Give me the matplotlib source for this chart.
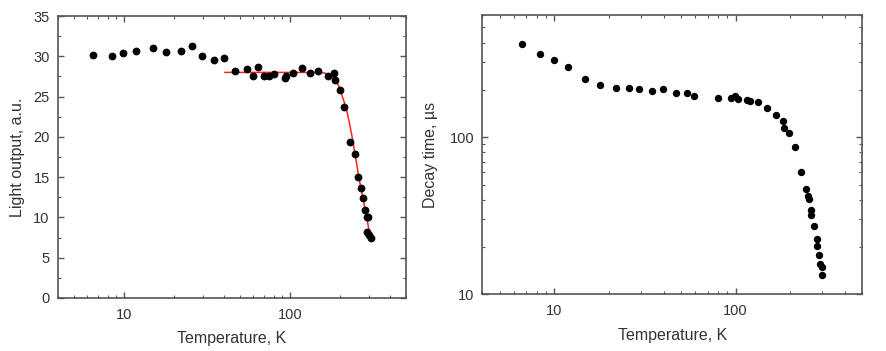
import matplotlib
matplotlib.use("Agg")
import matplotlib.pyplot as plt
from matplotlib.ticker import LogLocator, NullFormatter, MultipleLocator, FixedLocator, FixedFormatter

plt.rcParams['font.family'] = ['Liberation Sans', 'DejaVu Sans']

# Left panel: light output vs temperature
lo_temp = [6.46, 8.47, 9.86, 11.86, 14.86, 17.9, 22.0, 25.8, 29.6, 34.8, 39.8,
           46.6, 54.7, 60.0, 64.3, 69.5, 74.8, 79.8, 92.9, 95.1, 103.8, 118.6,
           132.4, 147.9, 169, 183.7, 187.9, 199.5, 211.8, 231.2, 247.7, 257,
           266.7, 276.7, 283.1, 291, 296.5, 291, 300.6, 306]
lo_value = [30.2, 30.05, 30.4, 30.6, 31.0, 30.5, 30.6, 31.25, 30.05, 29.55, 29.75,
            28.2, 28.4, 27.6, 28.7, 27.6, 27.6, 27.75, 27.25, 27.5, 27.9, 28.55,
            27.9, 28.2, 27.6, 27.9, 27.05, 25.8, 23.7, 19.4, 17.9, 15.0,
            13.6, 12.4, 10.9, 10.0, 10.0, 8.15, 7.8, 7.5]

# Fit curve
fit_temp = [40.5, 80, 120, 150, 161.3, 176.9, 189.6, 198.5, 207.7, 217.6, 227.8,
            238.4, 249.8, 261.6, 273.8, 286.9, 300.3, 306.5]
fit_value = [28.0, 28.0, 28.0, 27.97, 27.93, 27.59, 26.97, 26.14, 24.89, 23.65, 21.77,
             19.69, 17.19, 14.69, 12.61, 10.54, 8.24, 7.7]

# Right panel: decay time vs temperature
dt_temp = [6.59, 8.37, 9.91, 11.9, 14.8, 17.8, 21.9, 25.8, 29.4, 34.6, 39.5, 46.6,
           53.8, 59.3, 79.5, 93.8, 98.6, 103, 116, 119.5, 133, 149, 167, 182, 186,
           196, 212, 231, 245, 252, 254.6, 262, 262, 272, 283, 283, 287, 294, 301, 301]
dt_value = [393, 337, 310, 278, 235, 215, 206, 206, 202, 198, 202, 190,
            190, 182, 179, 179, 182, 175, 172, 171, 168, 154, 138, 127, 114,
            107, 86.7, 60.3, 46.9, 42.1, 40.3, 34.2, 31.9, 27.2, 22.6, 20.2, 17.9, 15.6, 15.0, 13.2]

xlabel = "Temperature, K"
ylabel_left = "Light output, a.u."
ylabel_right = "Decay time, \u00b5s"

fig = plt.figure(figsize=(8.86, 3.51), dpi=100)
ax1 = fig.add_axes([0.0655, 0.151, 0.3927, 0.8034])
ax2 = fig.add_axes([0.5444, 0.1615, 0.4288, 0.7958])

frame_col = '#555555'
text_col = '#333333'

for ax in (ax1, ax2):
    ax.set_xscale('log')
    ax.set_xlim(4, 500)
    ax.xaxis.set_major_locator(FixedLocator([10, 100]))
    ax.xaxis.set_major_formatter(FixedFormatter(['10', '100']))
    ax.xaxis.set_minor_locator(LogLocator(base=10, subs=range(2, 10)))
    ax.xaxis.set_minor_formatter(NullFormatter())
    ax.tick_params(which='both', direction='in', top=True, right=True,
                   color=frame_col, labelcolor=text_col, labelsize=10.5)
    ax.tick_params(which='major', length=4, width=1.0)
    ax.tick_params(which='minor', length=2, width=0.8)
    ax.tick_params(axis='x', pad=7)
    ax.tick_params(axis='y', pad=6)
    for s in ax.spines.values():
        s.set_color(frame_col)
        s.set_linewidth(1.2)
    ax.set_xlabel(xlabel, fontsize=11.5, color=text_col, labelpad=7)

ax1.plot(lo_temp, lo_value, 'o', color='black', markersize=4.6, zorder=3)
ax1.plot(fit_temp, fit_value, '-', color='#ff2020', linewidth=1.1, zorder=2)
ax1.set_ylim(0, 35)
ax1.yaxis.set_major_locator(MultipleLocator(5))
ax1.yaxis.set_minor_locator(MultipleLocator(2.5))
ax1.set_ylabel(ylabel_left, fontsize=11.5, color=text_col, labelpad=6)

ax2.plot(dt_temp, dt_value, 'o', color='black', markersize=4.3, zorder=3)
ax2.set_yscale('log')
ax2.set_ylim(10, 600)
ax2.yaxis.set_major_locator(FixedLocator([10, 100]))
ax2.yaxis.set_major_formatter(FixedFormatter(['10', '100']))
ax2.yaxis.set_minor_locator(LogLocator(base=10, subs=range(2, 10)))
ax2.yaxis.set_minor_formatter(NullFormatter())
ax2.set_ylabel(ylabel_right, fontsize=11.5, color=text_col, labelpad=8)

fig.savefig('out.png', dpi=100)
